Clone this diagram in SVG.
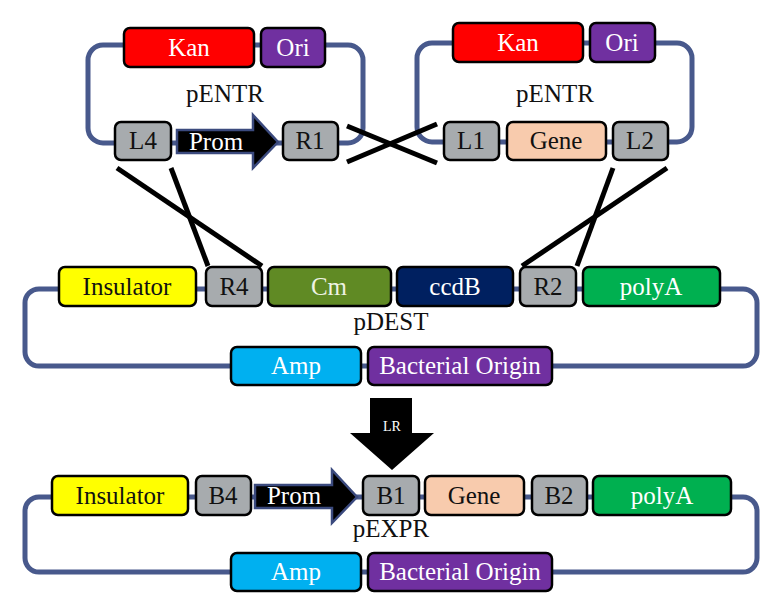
<svg xmlns="http://www.w3.org/2000/svg" width="781" height="599" viewBox="0 0 781 599" font-family="'Liberation Serif', 'DejaVu Serif', serif">
<style>
.loop{fill:none;stroke:#48598c;stroke-width:5}
.box{stroke:#000;stroke-width:2.5}
.cross{stroke:#000;stroke-width:5;fill:none}
text{font-family:'Liberation Serif','DejaVu Serif',serif;font-size:25px;text-anchor:middle}
.w{fill:#fff}
.k{fill:#111}
.gray{fill:#a7abae}
.prom{fill:#000;stroke:#3b4a7e;stroke-width:2.5}
</style>
<rect width="781" height="599" fill="#fff"/>
<g id="loops">
<rect class="loop" x="88" y="45" width="275" height="98" rx="15"/>
<rect class="loop" x="417" y="43" width="275" height="99" rx="15"/>
<rect class="loop" x="25" y="289" width="732" height="77" rx="14"/>
<rect class="loop" x="25" y="497" width="732" height="75" rx="14"/>
</g>
<g id="connectors">
<line class="cross" x1="347" y1="126" x2="437" y2="163"/>
<line class="cross" x1="347" y1="162" x2="437" y2="124"/>
<line class="cross" x1="117" y1="168" x2="262" y2="266"/>
<line class="cross" x1="171" y1="168" x2="208" y2="266"/>
<line class="cross" x1="613" y1="168" x2="577" y2="266"/>
<line class="cross" x1="667" y1="168" x2="522" y2="266"/>
</g>
<g id="pENTR1">
<g id="kan1"><rect class="box" x="124" y="28" width="130" height="39" rx="6" fill="#ff0000"/><text class="w" x="189" y="56">Kan</text></g>
<g id="ori1"><rect class="box" x="261" y="28" width="64" height="39" rx="6" fill="#7030a0"/><text class="w" x="293" y="56">Ori</text></g>
<text class="k" x="225" y="102">pENTR</text>
<g id="L4"><rect class="box gray" x="115" y="122" width="56" height="38" rx="6"/><text class="k" x="143" y="149">L4</text></g>
<g id="prom1"><path class="prom" d="M177,130 H253 V115 L278,142 L253,168 V153 H177 Z"/><text class="w" x="216" y="150">Prom</text></g>
<g id="R1"><rect class="box gray" x="283" y="122" width="55" height="38" rx="6"/><text class="k" x="310" y="149">R1</text></g>
</g>
<g id="pENTR2">
<g id="kan2"><rect class="box" x="453" y="23" width="130" height="39" rx="6" fill="#ff0000"/><text class="w" x="518" y="51">Kan</text></g>
<g id="ori2"><rect class="box" x="590" y="23" width="65" height="39" rx="6" fill="#7030a0"/><text class="w" x="622" y="51">Ori</text></g>
<text class="k" x="555" y="102">pENTR</text>
<g id="L1"><rect class="box gray" x="444" y="122" width="55" height="38" rx="6"/><text class="k" x="471" y="149">L1</text></g>
<g id="gene1"><rect class="box" x="507" y="122" width="99" height="38" rx="6" fill="#f8cbad"/><text class="k" x="556" y="149">Gene</text></g>
<g id="L2"><rect class="box gray" x="613" y="122" width="55" height="38" rx="6"/><text class="k" x="640" y="149">L2</text></g>
</g>
<g id="pDEST">
<g id="ins1"><rect class="box" x="59" y="267" width="137" height="39" rx="6" fill="#ffff00"/><text class="k" x="127" y="295">Insulator</text></g>
<g id="R4"><rect class="box gray" x="206" y="267" width="56" height="39" rx="6"/><text class="k" x="234" y="295">R4</text></g>
<g id="Cm"><rect class="box" x="268" y="267" width="123" height="39" rx="6" fill="#608a24"/><text x="329" y="295" fill="#eef3e4">Cm</text></g>
<g id="ccdB"><rect class="box" x="397" y="267" width="116" height="39" rx="6" fill="#002060"/><text class="w" x="455" y="295">ccdB</text></g>
<g id="R2"><rect class="box gray" x="520" y="267" width="56" height="39" rx="6"/><text class="k" x="548" y="295">R2</text></g>
<g id="polyA1"><rect class="box" x="583" y="267" width="137" height="39" rx="6" fill="#00b050"/><text class="w" x="651" y="295">polyA</text></g>
<text class="k" x="391" y="330">pDEST</text>
<g id="amp1"><rect class="box" x="231" y="347" width="130" height="38" rx="6" fill="#00b0f0"/><text class="w" x="296" y="374">Amp</text></g>
<g id="bo1"><rect class="box" x="368" y="347" width="184" height="38" rx="6" fill="#7030a0"/><text class="w" x="460" y="374">Bacterial Origin</text></g>
</g>
<g id="LR">
<path d="M370,398 H412 V433 H434 L392,470 L350,433 H370 Z" fill="#000"/>
<text class="w" x="392" y="431" style="font-size:14px">LR</text>
</g>
<g id="pEXPR">
<g id="ins2"><rect class="box" x="52" y="476" width="136" height="39" rx="6" fill="#ffff00"/><text class="k" x="120" y="504">Insulator</text></g>
<g id="B4"><rect class="box gray" x="196" y="476" width="55" height="39" rx="6"/><text class="k" x="223" y="504">B4</text></g>
<g id="prom2"><path class="prom" d="M255,485 H332 V470 L357,497 L332,523 V508 H255 Z"/><text class="w" x="294" y="504">Prom</text></g>
<g id="B1"><rect class="box gray" x="363" y="476" width="56" height="39" rx="6"/><text class="k" x="391" y="504">B1</text></g>
<g id="gene2"><rect class="box" x="425" y="476" width="99" height="39" rx="6" fill="#f8cbad"/><text class="k" x="474" y="504">Gene</text></g>
<g id="B2"><rect class="box gray" x="532" y="476" width="55" height="39" rx="6"/><text class="k" x="559" y="504">B2</text></g>
<g id="polyA2"><rect class="box" x="593" y="476" width="138" height="39" rx="6" fill="#00b050"/><text class="w" x="662" y="504">polyA</text></g>
<text class="k" x="391" y="537">pEXPR</text>
<g id="amp2"><rect class="box" x="231" y="553" width="130" height="38" rx="6" fill="#00b0f0"/><text class="w" x="296" y="580">Amp</text></g>
<g id="bo2"><rect class="box" x="368" y="553" width="184" height="38" rx="6" fill="#7030a0"/><text class="w" x="460" y="580">Bacterial Origin</text></g>
</g>
</svg>
